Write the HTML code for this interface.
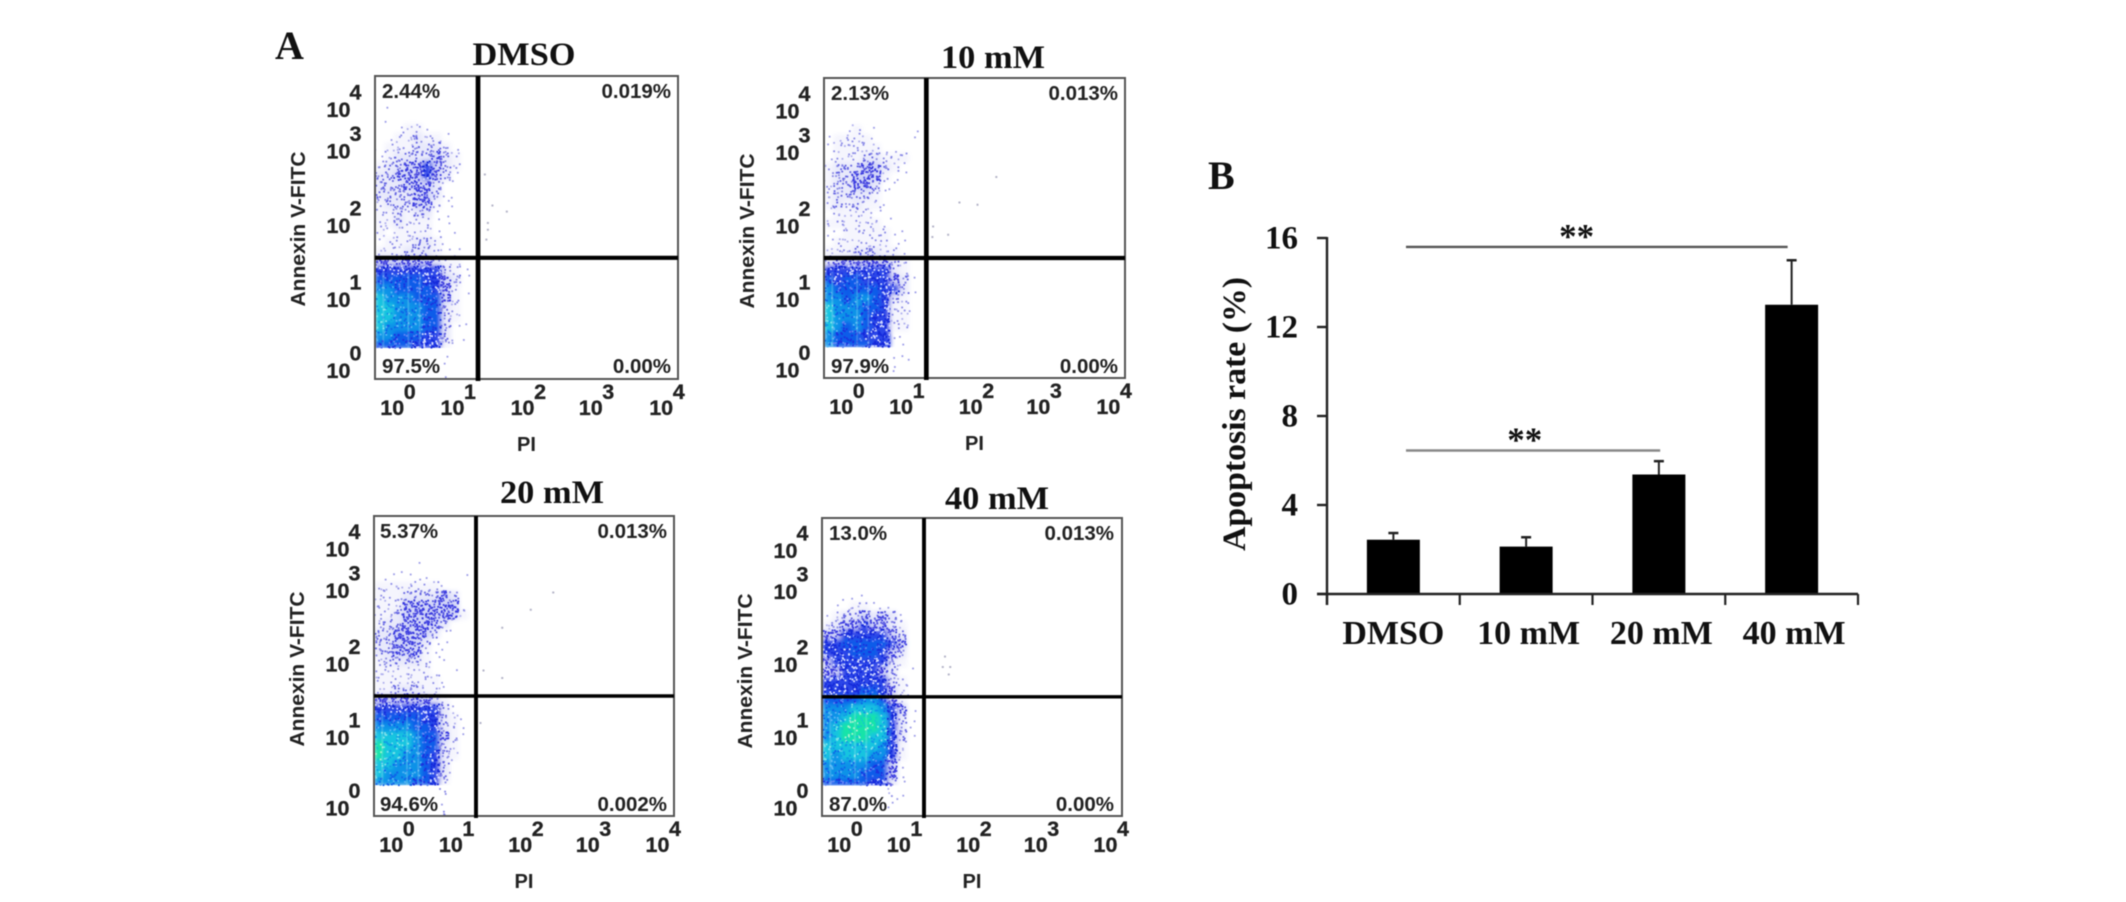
<!DOCTYPE html>
<html lang="en">
<head>
<meta charset="utf-8">
<title>Apoptosis flow cytometry and rate</title>
<style>
html,body{margin:0;padding:0;background:#fff;width:2126px;height:902px;overflow:hidden}
svg{display:block;filter:blur(.45px)}
.sans{font-family:"Liberation Sans",Arial,sans-serif;font-weight:bold;fill:#222}
.serif{font-family:"Liberation Serif","Times New Roman",serif;font-weight:bold;fill:#111}
.pct{font-size:20.5px}
.title{font-size:33px}
.letter{font-size:40px}
.bar-text{font-size:33px}
.bar-cat{font-size:34px}
.tick{font-size:21.5px;stroke:#222;stroke-width:.3px}
</style>
</head>
<body>
<svg id="fig" xmlns="http://www.w3.org/2000/svg" width="2126" height="902" viewBox="0 0 2126 902">
  <defs>
    <filter id="soften" x="-10%" y="-10%" width="120%" height="120%"><feGaussianBlur stdDeviation="2.4"/></filter>
  </defs>
  <rect width="2126" height="902" fill="#fff"/>

  <text class="serif letter" x="275" y="59">A</text>
  <text class="serif letter" x="1208" y="189">B</text>

  <g id="plot-dmso">
    <text class="serif title" x="524" y="65" text-anchor="middle" textLength="103" lengthAdjust="spacingAndGlyphs">DMSO</text>
    <text class="sans pct" x="382" y="98">2.44%</text>
    <text class="sans pct" x="671" y="98" text-anchor="end">0.019%</text>
    <text class="sans pct" x="382" y="373">97.5%</text>
    <text class="sans pct" x="671" y="373" text-anchor="end">0.00%</text>
  </g>
  <g id="plot-10">
    <text class="serif title" x="993" y="68" text-anchor="middle" textLength="104" lengthAdjust="spacingAndGlyphs">10 mM</text>
    <text class="sans pct" x="831" y="100">2.13%</text>
    <text class="sans pct" x="1118" y="100" text-anchor="end">0.013%</text>
    <text class="sans pct" x="831" y="373">97.9%</text>
    <text class="sans pct" x="1118" y="373" text-anchor="end">0.00%</text>
  </g>
  <g id="plot-20">
    <text class="serif title" x="552" y="503" text-anchor="middle" textLength="104" lengthAdjust="spacingAndGlyphs">20 mM</text>
    <text class="sans pct" x="380" y="538">5.37%</text>
    <text class="sans pct" x="667" y="538" text-anchor="end">0.013%</text>
    <text class="sans pct" x="380" y="811">94.6%</text>
    <text class="sans pct" x="667" y="811" text-anchor="end">0.002%</text>
  </g>
  <g id="plot-40">
    <text class="serif title" x="997" y="509" text-anchor="middle" textLength="104" lengthAdjust="spacingAndGlyphs">40 mM</text>
    <text class="sans pct" x="829" y="540">13.0%</text>
    <text class="sans pct" x="1114" y="540" text-anchor="end">0.013%</text>
    <text class="sans pct" x="829" y="811">87.0%</text>
    <text class="sans pct" x="1114" y="811" text-anchor="end">0.00%</text>
  </g>

  <g id="bar-chart">
    <text class="serif bar-text" transform="translate(1245,414) rotate(-90)" text-anchor="middle" textLength="274" lengthAdjust="spacingAndGlyphs">Apoptosis rate (%)</text>
  </g>
</svg>

<script>
// ---------- Panel A: density, one string per row (top to bottom, 1/8 decade cells) ----------
const densityDMSO = [
"0000000000","0000000000","0000000000","0100000000","0100000000","0012210000","0122322100","1222333210",
"1233334320","2334454320","3344454310","3334443110","3333443110","2333442110","2232331100","2232221100",
"2122221010","1222332100","2223332110","4444443220","5555555321","6666655431","7766665421","8777666420",
"8877766320","8877766320","8777766311","7766655311","6666555210","0000000100","0000000100","0000000100"];
const density10mM = [
"0000000000","0000000000","0000000000","0000000000","0000000000","0012010001","1222210001","1222221100",
"1222332220","2333443210","2334442110","2334431100","2333321000","2323221000","1222211100","2222221000",
"1122222110","1222222110","2223332210","3444444320","5555555320","6566555431","7666665531","7767765320",
"8777665221","8777655220","8767655220","7666555110","7666655010","0000000110","0000000101","0000000100"];
const density20mM = [
"0000000000","0000000000","0000000000","0000000000","0000000000","0010100000","0111110001","2222222100",
"2223333430","2224444440","2234444442","2334444310","3344443110","3344431100","3344421100","2333321100",
"2222221010","2222222100","2233322100","4444443210","5555555310","6666655321","7777665321","8888766421",
"9888766320","9887765320","8877765310","8777765310","7777665200","0000000200","0000000100","0000000200"];
const density40mM = [
"0000000000","0000000000","0000000000","0000000000","0000000000","0000000000","0000000000","0000000000",
"0011100000","0112211100","1233434310","2344544320","4455555430","5566666540","5556665430","4555555320",
"4455554311","5555555321","5555665421","6666776421","7778887541","7789998531","7899998531","7899988531",
"8888887520","8788877520","7777766410","7777666410","6666655310","0000000210","0000000110","0000000100"];

// Individually readable events outside the main cloud (log10 decades)
const outlierXDMSO = [1.45,1.55,1.74,1.49,1.49,1.47];
const outlierYDMSO = [2.70,2.29,2.21,2.06,1.97,1.84];
const outlierX10mM = [2.29,1.80,2.04,1.45,1.44,1.65];
const outlierY10mM = [2.68,2.34,2.31,2.02,1.88,1.91];
const outlierX20mM = [2.39,2.09,1.71,1.46,1.71,1.42];
const outlierY20mM = [2.98,2.75,2.51,1.94,1.84,1.24];
const outlierX40mM = [1.64,1.61,1.71,1.69];
const outlierY40mM = [2.14,2.00,2.00,1.90];

const gateXDecade = 1.36;
const gateYDecade = 1.60;
const floorDecade = 0.41;
const stripeDecades = [0.11,0.44,0.59];
const tickExponents = ["0","1","2","3","4"];
const xTickAnchorDecade = [0.07,0.865,1.79,2.69,3.62];
const yTickAnchorDecade = [0.01,0.95,1.93,2.91,3.46];

// ---------- Panel B ----------
const barCategories = ["DMSO","10 mM","20 mM","40 mM"];
const barValues = [2.44,2.13,5.37,13.0];
const barErrorTops = [2.74,2.55,5.97,15.0];
const barYTicks = [0,4,8,12,16];
const sigFromBand = [0.595,0.595];
const sigToBand = [2.51,3.47];
const sigLevels = [6.45,15.6];
const sigLabelBand = [1.49,1.88];
const sigLabels = ["**","**"];

const NS = "http://www.w3.org/2000/svg";
function mk(parent, tag, attrs, text){
  const e = document.createElementNS(NS, tag);
  for (const k in attrs) e.setAttribute(k, attrs[k]);
  if (text !== undefined) e.textContent = text;
  parent.appendChild(e);
  return e;
}
// fixed stipple offset inside a density cell (layout only; dot counts come from the density value)
function stipple(n, m){ const s = Math.sin(n * 12.9898 + m * 78.233) * 43758.5453; return s - Math.floor(s); }

const cellColors = [null,null,"#f5f5fd","#e8e9fb","#d0d4f8","#2a44e8","#0f5be9","#0f92e8","#14c4e0","#18e4a8"];
const dotCounts  = [0,1,3,7,16,14,8,7,7,7];
const dotColors  = ["","#9c9ce8","#8a8ae6","#6464e2","#3a3adf","#1428da","#1c30de","#0f62e8","#0f98e6","#14c8cc"];
const dotAltColors = ["","#9c9ce8","#b0b0ee","#8a8ae6","#5858e2","#d4dbff","#5f86f4","#59b6f4","#7fe2ea","#a8f2cc"];

function drawPanel(id, box, grid, ox, oy){
  const g = document.getElementById(id);
  const sx = d => box.x + d / 4 * box.w;
  const sy = d => box.y + box.h - d / 4 * box.h;

  const defs = document.querySelector("#fig defs");
  const clip = mk(defs, "clipPath", {id:"clip-" + id});
  mk(clip, "rect", {x:box.x, y:box.y, width:box.w, height:sy(floorDecade) - box.y});

  const clipGroup = mk(g, "g", {"clip-path":"url(#clip-" + id + ")"});
  
  
  const base = mk(clipGroup, "g", {filter:"url(#soften)"});
  
  
  const dots = mk(g, "g", {});
  
  

  grid.forEach((row, r) => {
    for (let c = 0; c < row.length; c++){
      const d = +row[c];
      if (!d) continue;
      const top = 4 - r * 0.125;
      let bottom = top - 0.125;
      if (top > floorDecade && bottom < floorDecade) bottom = floorDecade;
      const x0 = sx(c * 0.125), x1 = sx((c + 1) * 0.125);
      const y0 = sy(top), y1 = sy(bottom);
      if (cellColors[d]){
        const cell = mk(base, "rect", {x:x0, y:y0, width:x1 - x0 + .4, height:y1 - y0 + .4, fill:cellColors[d]});
        
        
      }
      for (let k = 0; k < dotCounts[d]; k++){
        const seed = k + 1 + c * 211 + r * 547 + box.x;
        const dot = mk(dots, "rect", {
          x: x0 + stipple(seed, 1) * (x1 - x0) - .9,
          y: y0 + stipple(seed, 2) * (y1 - y0) - .9,
          width: 1.8, height: 1.8, fill: stipple(seed, 3) < .4 ? dotAltColors[d] : dotColors[d]
        });
        
        
      }
    }
  });
  stripeDecades.forEach(v => {
    const s = mk(g, "line", {x1:sx(v), x2:sx(v), y1:sy(gateYDecade) + 14, y2:sy(floorDecade), stroke:"#bff4f0", "stroke-width":2, "stroke-opacity":.22});
    
    
  });
  ox.forEach((v, i) => {
    const o = mk(g, "rect", {x:sx(v) - 1, y:sy(oy[i]) - 1, width:2, height:2, fill:"#b4b4c8"});
    
    
  });

  const frame = mk(g, "rect", {x:box.x, y:box.y, width:box.w, height:box.h, fill:"none", stroke:"#555", "stroke-width":2});
  
  
  const vg = mk(g, "line", {x1:sx(gateXDecade), x2:sx(gateXDecade), y1:box.y, y2:box.y + box.h + 2, stroke:"#000", "stroke-width":box.thick + .5});
  
  
  const hg = mk(g, "line", {x1:box.x, x2:box.x + box.w, y1:sy(gateYDecade), y2:sy(gateYDecade), stroke:"#000", "stroke-width":box.thick});
  
  

  tickExponents.forEach((exp, i) => {
    const xb = sx(xTickAnchorDecade[i]), yb = box.y + box.h + 36;
    const a = mk(g, "text", {class:"sans tick", x:xb, y:yb}, "10");
    
    
    const b = mk(g, "text", {class:"sans tick", x:xb + 23.5, y:yb - 16}, exp);
    
    

    const xl = box.x - 48.5, yl = sy(yTickAnchorDecade[i]);
    const c = mk(g, "text", {class:"sans tick", x:xl, y:yl}, "10");
    
    
    const e = mk(g, "text", {class:"sans tick", x:xl + 23, y:yl - 17.5}, exp);
    
    
  });

  const xt = mk(g, "text", {class:"sans", x:box.x + box.w / 2, y:box.y + box.h + 72, "text-anchor":"middle", "font-size":20}, "PI");
  
  
  const yt = mk(g, "text", {class:"sans", transform:"translate(" + (box.x - 70) + "," + (box.y + 153) + ") rotate(-90)", "text-anchor":"middle", "font-size":20, textLength:155, lengthAdjust:"spacingAndGlyphs"}, "Annexin V-FITC");
  
  
}

drawPanel("plot-dmso", {x:375, y:76,  w:303, h:303, thick:4.2}, densityDMSO, outlierXDMSO, outlierYDMSO);
drawPanel("plot-10",   {x:824, y:78,  w:301, h:300, thick:4.2}, density10mM, outlierX10mM, outlierY10mM);
drawPanel("plot-20",   {x:374, y:516, w:300, h:300, thick:3.4}, density20mM, outlierX20mM, outlierY20mM);
drawPanel("plot-40",   {x:822, y:518, w:300, h:298, thick:3.4}, density40mM, outlierX40mM, outlierY40mM);

// ---------- Bar chart ----------
(function(){
  const g = document.getElementById("bar-chart");
  const originX = 1327, axisEndX = 1858, baseY = 594, topY = 238, yMax = 16;
  const band = (axisEndX - originX) / barCategories.length;
  const sy = v => baseY - v / yMax * (baseY - topY);
  const bandX = b => originX + band * b;

  barCategories.forEach((name, i) => {
    const cx = bandX(i + .5);
    const bar = mk(g, "rect", {x:cx - 26.5, y:sy(barValues[i]), width:53, height:baseY - sy(barValues[i]), fill:"#000"});
    
    
    const stem = mk(g, "line", {x1:cx, x2:cx, y1:sy(barErrorTops[i]), y2:sy(barValues[i]), stroke:"#222", "stroke-width":2});
    
    
    const cap = mk(g, "line", {x1:cx - 5, x2:cx + 5, y1:sy(barErrorTops[i]), y2:sy(barErrorTops[i]), stroke:"#222", "stroke-width":2.5});
    
    
    const lab = mk(g, "text", {class:"serif bar-cat", x:cx + (i ? 2.5 : 0), y:644, "text-anchor":"middle"}, name);
    
    
  });

  const yAxis = mk(g, "line", {x1:originX, x2:originX, y1:topY - 1, y2:605, stroke:"#222", "stroke-width":2.4});
  
  
  const xAxis = mk(g, "line", {x1:1317, x2:axisEndX, y1:baseY, y2:baseY, stroke:"#222", "stroke-width":2.4});
  
  

  barYTicks.forEach(t => {
    const tick = mk(g, "line", {x1:1317, x2:originX, y1:sy(t), y2:sy(t), stroke:"#222", "stroke-width":2.4});
    
    
    const lab = mk(g, "text", {class:"serif bar-text", x:1298, y:sy(t) + 10.5, "text-anchor":"end"}, String(t));
    
    
  });
  for (let i = 0; i <= barCategories.length; i++){
    const tick = mk(g, "line", {x1:bandX(i), x2:bandX(i), y1:baseY, y2:605, stroke:"#222", "stroke-width":2.2});
    
    
  }

  sigLevels.forEach((lv, i) => {
    const line = mk(g, "line", {x1:bandX(sigFromBand[i]), x2:bandX(sigToBand[i]), y1:sy(lv), y2:sy(lv), stroke:i ? "#555" : "#888", "stroke-width":2.4});
    
    
    const star = mk(g, "text", {class:"serif", x:bandX(sigLabelBand[i]), y:sy(lv) + 1, "text-anchor":"middle", "font-size":35}, sigLabels[i]);
    
    
  });
})();
</script>
</body>
</html>
